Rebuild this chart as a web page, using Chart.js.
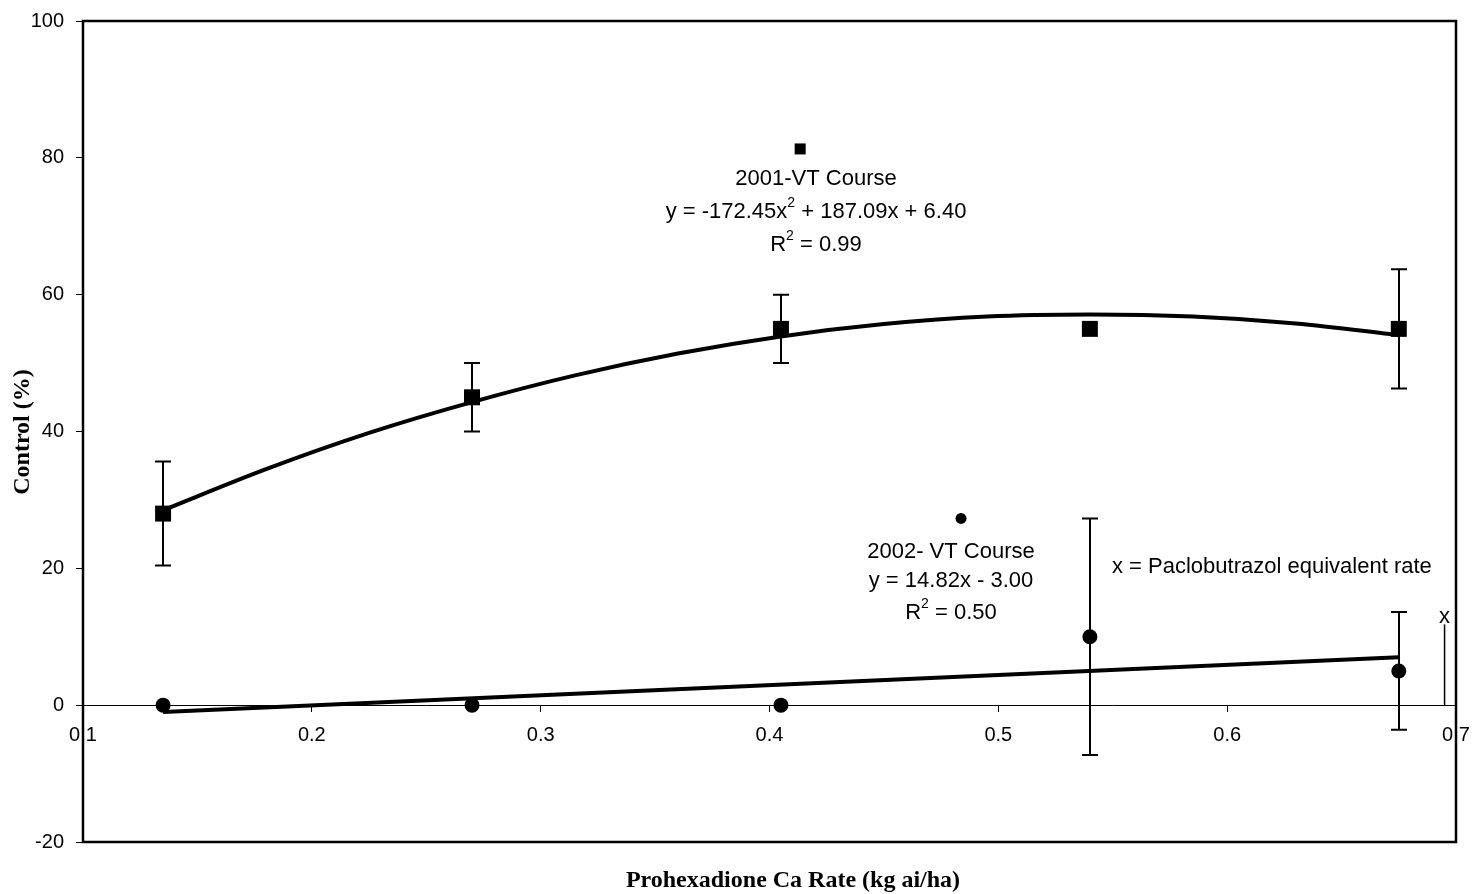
<!DOCTYPE html>
<html>
<head>
<meta charset="utf-8">
<script src="https://cdn.jsdelivr.net/npm/chart.js"></script>
<style>
  html, body { margin: 0; padding: 0; background: #fff; }
  #wrap { position: relative; width: 1475px; height: 894px; }
</style>
</head>
<body>
<div id="wrap"><canvas id="chart"></canvas></div>
<script>
  // Prohexadione Ca rates (kg ai/ha)
  const rates = [0.135, 0.27, 0.405, 0.54, 0.675];

  // 2001 VT course: mean control (%) and error half-widths
  const control2001 = [28, 45, 55, 55, 55];
  const error2001 = [7.6, 5, 5, 0, 8.7];

  // 2002 VT course
  const control2002 = [0, 0, 0, 10, 5];
  const error2002 = [0, 0, 0, 17.3, 8.6];

  // trend lines as drawn
  const fit2001X = [0.135, 0.18, 0.225, 0.27, 0.315, 0.36, 0.405, 0.45, 0.495, 0.54, 0.585, 0.63, 0.675];
  const fit2001Y = [28.5, 34.5, 39.8, 44.3, 48.2, 51.4, 53.9, 55.7, 56.8, 57.1, 56.8, 55.8, 54.1];
  const fit2002X = [0.135, 0.675];
  const fit2002Y = [-1.0, 7.0];

  // paclobutrazol equivalent rate marker
  const pacloX = [0.695, 0.695];
  const pacloY = [0, 11.8];

  const xTicks = [0.1, 0.2, 0.3, 0.4, 0.5, 0.6, 0.7];
  const yTicks = [-20, 0, 20, 40, 60, 80, 100];

  const SANS = '"Liberation Sans", Arial, sans-serif';
  const SERIF = '"Liberation Serif", "Times New Roman", serif';

  function toPoints(xs, ys) {
    return xs.map((x, i) => ({ x, y: ys[i] }));
  }

  // Draw a centred string that may contain one superscript part: [before, sup, after]
  function drawSupText(ctx, parts, cx, cy, size) {
    const [before, sup, after] = parts;
    const supSize = Math.round(size * 0.65);
    ctx.font = `${size}px ${SANS}`;
    const w1 = ctx.measureText(before).width;
    const w3 = ctx.measureText(after || '').width;
    ctx.font = `${supSize}px ${SANS}`;
    const w2 = sup ? ctx.measureText(sup).width : 0;
    let x = cx - (w1 + w2 + w3) / 2;
    ctx.textBaseline = 'middle';
    ctx.textAlign = 'left';
    ctx.font = `${size}px ${SANS}`;
    ctx.fillText(before, x, cy);
    x += w1;
    if (sup) {
      ctx.font = `${supSize}px ${SANS}`;
      ctx.fillText(sup, x, cy - size * 0.4);
      x += w2;
    }
    ctx.font = `${size}px ${SANS}`;
    if (after) ctx.fillText(after, x, cy);
  }

  const overlay = {
    id: 'overlay',
    afterDatasetsDraw(chart) {
      const { ctx, chartArea } = chart;
      const xs = chart.scales.x;
      const ys = chart.scales.y;
      ctx.save();
      ctx.strokeStyle = '#000';
      ctx.fillStyle = '#000';

      // error bars
      ctx.lineWidth = 2;
      const cap = 8;
      [[control2001, error2001], [control2002, error2002]].forEach(([vals, errs]) => {
        vals.forEach((v, i) => {
          if (!errs[i]) return;
          const px = Math.round(xs.getPixelForValue(rates[i]));
          const top = ys.getPixelForValue(v + errs[i]);
          const bot = ys.getPixelForValue(v - errs[i]);
          ctx.beginPath();
          ctx.moveTo(px, top);
          ctx.lineTo(px, bot);
          ctx.moveTo(px - cap, top);
          ctx.lineTo(px + cap, top);
          ctx.moveTo(px - cap, bot);
          ctx.lineTo(px + cap, bot);
          ctx.stroke();
        });
      });

      // plot frame
      ctx.lineWidth = 2.5;
      ctx.strokeRect(chartArea.left, chartArea.top, chartArea.right - chartArea.left, chartArea.bottom - chartArea.top);

      // legend-like markers beside the equations
      const at = (x, y) => [xs.getPixelForValue(x), ys.getPixelForValue(y)];
      let [ax, ay] = at(0.4134, 81.3);
      ctx.fillRect(ax - 5.5, ay - 5.5, 11, 11);
      [ax, ay] = at(0.4837, 27.3);
      ctx.beginPath();
      ctx.arc(ax, ay, 5.5, 0, Math.PI * 2);
      ctx.fill();

      const c1 = 816;
      drawSupText(ctx, ['2001-VT Course'], c1, 179, 22);
      drawSupText(ctx, ['y = -172.45x', '2', ' + 187.09x + 6.40'], c1, 212, 22);
      drawSupText(ctx, ['R', '2', ' = 0.99'], c1, 245, 22);

      const c2 = 951;
      drawSupText(ctx, ['2002- VT Course'], c2, 552, 22);
      drawSupText(ctx, ['y = 14.82x - 3.00'], c2, 581, 22);
      drawSupText(ctx, ['R', '2', ' = 0.50'], c2, 613, 22);

      ctx.font = `22px ${SANS}`;
      ctx.textAlign = 'left';
      ctx.textBaseline = 'middle';
      ctx.fillText('x = Paclobutrazol equivalent rate', 1112, 567);
      ctx.textAlign = 'center';
      ctx.fillText('x', xs.getPixelForValue(0.695), 617);

      // axis titles
      ctx.font = `bold 24px ${SERIF}`;
      ctx.textAlign = 'center';
      ctx.textBaseline = 'middle';
      ctx.fillText('Prohexadione Ca Rate (kg ai/ha)', 793, 881);
      ctx.save();
      ctx.translate(23, 432);
      ctx.rotate(-Math.PI / 2);
      ctx.fillText('Control (%)', 0, 0);
      ctx.restore();

      ctx.restore();
    },
  };

  new Chart(document.getElementById('chart'), {
    type: 'scatter',
    data: {
      datasets: [
        {
          label: '2001 fit',
          type: 'line',
          data: toPoints(fit2001X, fit2001Y),
          borderColor: '#000',
          borderWidth: 4,
          pointRadius: 0,
          tension: 0.4,
          cubicInterpolationMode: 'monotone',
          fill: false,
        },
        {
          label: '2002 fit',
          type: 'line',
          data: toPoints(fit2002X, fit2002Y),
          borderColor: '#000',
          borderWidth: 4,
          pointRadius: 0,
          fill: false,
        },
        {
          label: 'paclobutrazol',
          type: 'line',
          data: toPoints(pacloX, pacloY),
          borderColor: '#000',
          borderWidth: 1.5,
          pointRadius: 0,
          fill: false,
        },
        {
          label: '2001-VT Course',
          data: toPoints(rates, control2001),
          pointStyle: 'rect',
          pointRadius: 11.3,
          backgroundColor: '#000',
          borderColor: '#000',
          borderWidth: 0,
        },
        {
          label: '2002- VT Course',
          data: toPoints(rates, control2002),
          pointStyle: 'circle',
          pointRadius: 7.5,
          backgroundColor: '#000',
          borderColor: '#000',
          borderWidth: 0,
        },
      ],
    },
    options: {
      responsive: true,
      maintainAspectRatio: false,
      animation: false,
      layout: { padding: { top: 21, right: 19, bottom: 52, left: 0 } },
      plugins: {
        legend: { display: false },
        tooltip: { enabled: false },
      },
      scales: {
        x: {
          type: 'linear',
          position: { y: 0 },
          min: 0.1,
          max: 0.7,
          afterBuildTicks: (axis) => {
            axis.ticks = xTicks.map((v) => ({ value: v }));
          },
          afterFit: (axis) => {
            axis.paddingLeft = 0;
            axis.paddingRight = 0;
          },
          ticks: {
            color: '#000',
            font: { family: SANS, size: 20 },
            padding: 12,
            maxRotation: 0,
            autoSkip: false,
            callback: (v) => Number(v).toFixed(1),
          },
          grid: {
            display: true,
            drawOnChartArea: false,
            drawTicks: true,
            tickLength: 6,
            color: '#000',
            lineWidth: 1,
          },
          border: { display: true, color: '#000', width: 1 },
        },
        y: {
          type: 'linear',
          position: 'left',
          min: -20,
          max: 100,
          afterBuildTicks: (axis) => {
            axis.ticks = yTicks.map((v) => ({ value: v }));
          },
          afterFit: (axis) => {
            axis.width = 83;
            axis.paddingTop = 0;
            axis.paddingBottom = 0;
          },
          ticks: {
            color: '#000',
            font: { family: SANS, size: 20 },
            padding: 12,
          },
          grid: {
            display: true,
            drawOnChartArea: false,
            drawTicks: true,
            tickLength: 7,
            color: '#000',
            lineWidth: 1,
          },
          border: { display: false },
        },
      },
    },
    plugins: [overlay],
  });
</script>
</body>
</html>
